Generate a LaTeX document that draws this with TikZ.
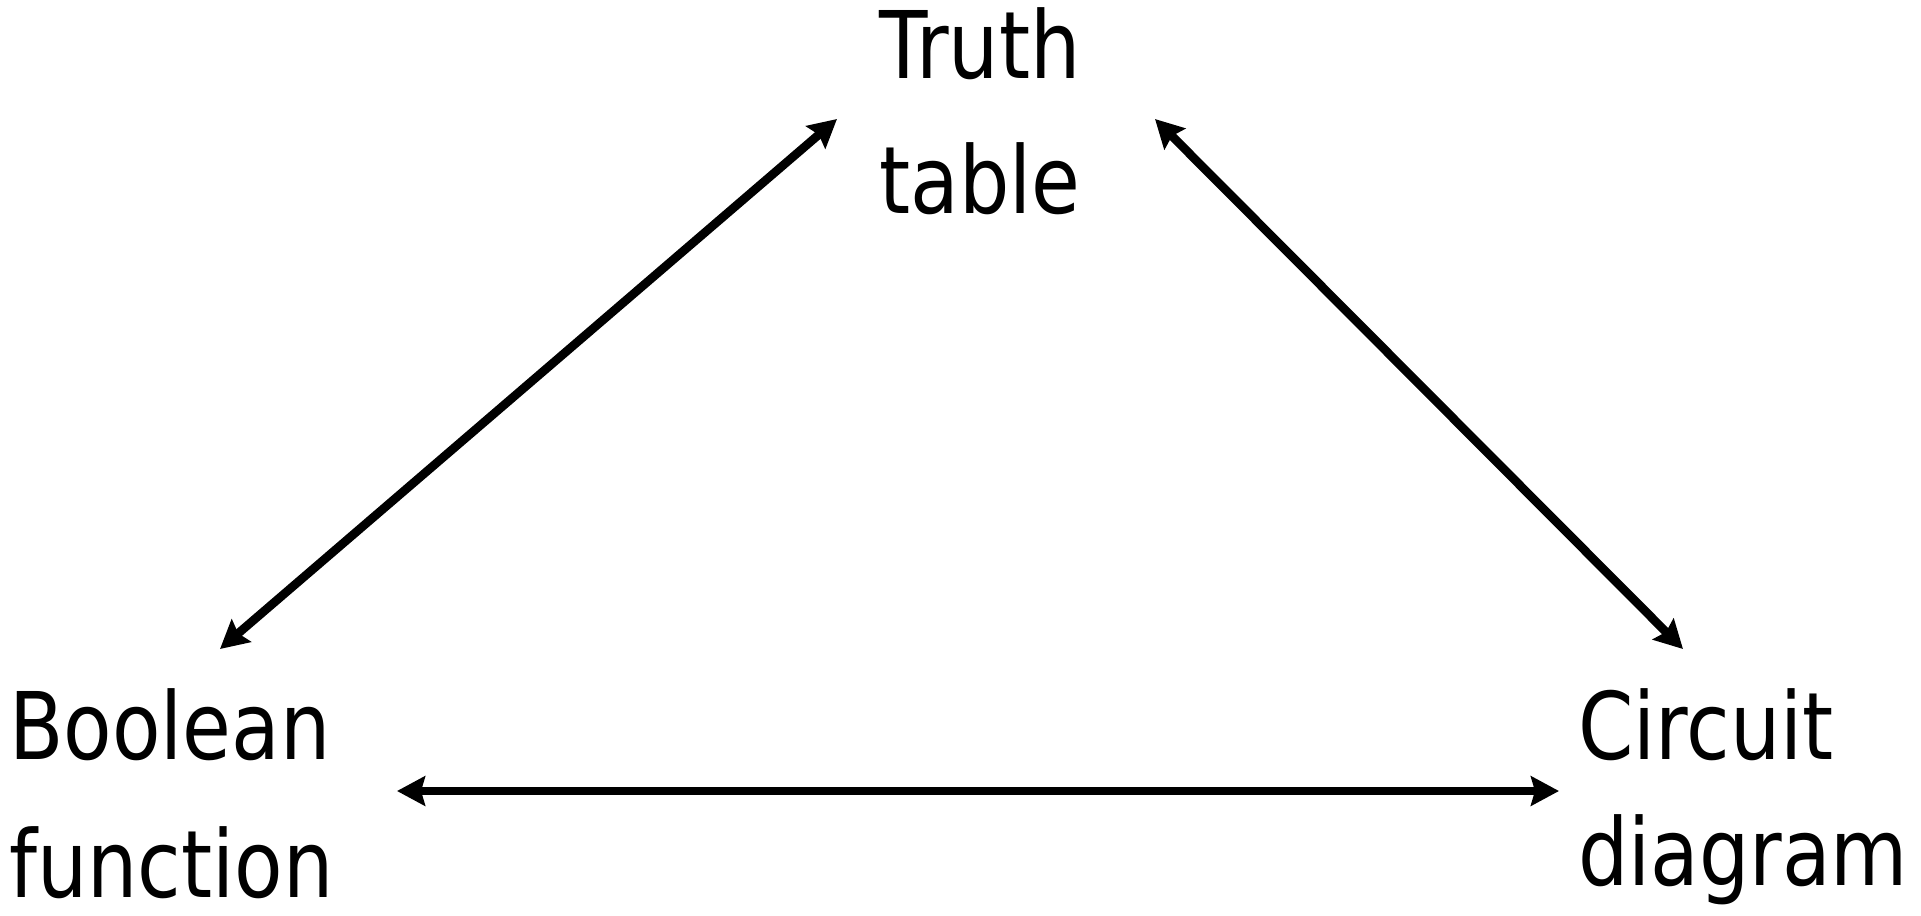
\documentclass[tikz,border=0pt]{standalone}
\usepackage{fontspec}
\setmainfont{DejaVu Sans}[FakeStretch=0.85]
\usetikzlibrary{arrows.meta}
\begin{document}
\begin{tikzpicture}[x=0.75pt,y=-0.75pt,
  lbl/.style={inner sep=0pt, anchor=base west, align=left},
  conn/.style={line width=6.5pt, {Stealth[length=21pt,width=22pt,inset=3pt]}-{Stealth[length=21pt,width=22pt,inset=3pt]}}]
\useasboundingbox (0,0) rectangle (1921,915);
\node[inner sep=0pt, anchor=base, align=center, font=\fontsize{70}{101}\selectfont] (tt) at (980,213) {Truth\\table};
\node[lbl, font=\fontsize{70}{103}\selectfont] (bf) at (9,897) {Boolean\\function};
\node[lbl, font=\fontsize{70}{94}\selectfont] (cd) at (1578,885) {Circuit\\diagram};
\coordinate (tt-l) at (837,119);
\coordinate (tt-r) at (1155,119);
\coordinate (bf-t) at (220,649);
\coordinate (bf-r) at (397,791);
\coordinate (cd-t) at (1683,649);
\coordinate (cd-l) at (1559,791);
\draw[conn] (bf-t) -- (tt-l);
\draw[conn] (tt-r) -- (cd-t);
\draw[conn] (bf-r) -- (cd-l);
\end{tikzpicture}
\end{document}
